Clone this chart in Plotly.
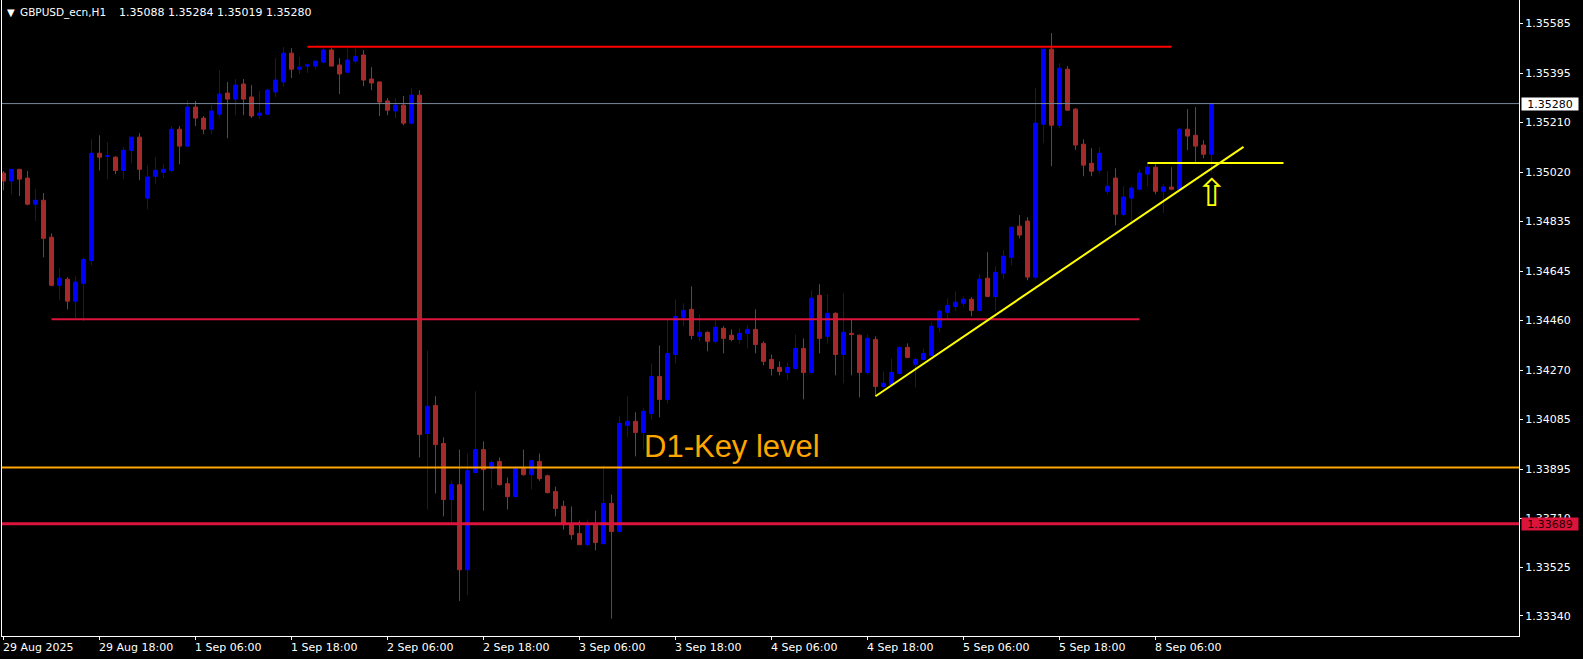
import pandas as pd
import plotly.graph_objects as go

symbol = "GBPUSD_ecn,H1"
start_time = "2025-08-29 06:00"

opens = [1.35017, 1.34987, 1.35031, 1.34998, 1.34899, 1.34914, 1.34774, 1.34592, 1.34615, 1.34532,
         1.34600, 1.34686, 1.35092, 1.35081, 1.35077, 1.35027, 1.35103, 1.35153, 1.34922, 1.35005,
         1.35020, 1.35027, 1.35183, 1.35119, 1.35267, 1.35225, 1.35183, 1.35240, 1.35320, 1.35297,
         1.35354, 1.35305, 1.35236, 1.35240, 1.35324, 1.35362, 1.35471, 1.35410, 1.35422, 1.35422,
         1.35437, 1.35483, 1.35426, 1.35399, 1.35441, 1.35464, 1.35373, 1.35362, 1.35290, 1.35252,
         1.35274, 1.35206, 1.35312, 1.34031, 1.34137, 1.33993, 1.33781, 1.33837, 1.33515, 1.33883,
         1.33970, 1.33898, 1.33925, 1.33841, 1.33792, 1.33898, 1.33875, 1.33925, 1.33871, 1.33811,
         1.33755, 1.33686, 1.33652, 1.33610, 1.33686, 1.33614, 1.33766, 1.33660, 1.34062, 1.34077,
         1.34035, 1.34107, 1.34247, 1.34160, 1.34330, 1.34471, 1.34501, 1.34399, 1.34414, 1.34380,
         1.34429, 1.34403, 1.34387, 1.34410, 1.34425, 1.34372, 1.34311, 1.34281, 1.34262, 1.34277,
         1.34353, 1.34262, 1.34554, 1.34399, 1.34486, 1.34330, 1.34410, 1.34403, 1.34262, 1.34387,
         1.34209, 1.34217, 1.34258, 1.34357, 1.34293, 1.34311, 1.34327, 1.34433, 1.34490, 1.34512,
         1.34524, 1.34539, 1.34497, 1.34619, 1.34550, 1.34638, 1.34698, 1.34816, 1.34835, 1.34623,
         1.35202, 1.35486, 1.35198, 1.35410, 1.35259, 1.35126, 1.35054, 1.35028, 1.34948, 1.34998,
         1.34861, 1.34922, 1.34956, 1.35013, 1.35039, 1.34948, 1.34964, 1.34956, 1.35183, 1.35160,
         1.35123, 1.35088]

highs = [1.35025, 1.35031, 1.35033, 1.35025, 1.34956, 1.34941, 1.34789, 1.34656, 1.34623, 1.34627,
         1.34698, 1.35145, 1.35160, 1.35134, 1.35081, 1.35115, 1.35153, 1.35168, 1.35046, 1.35077,
         1.35050, 1.35195, 1.35195, 1.35293, 1.35290, 1.35233, 1.35274, 1.35407, 1.35362, 1.35373,
         1.35373, 1.35350, 1.35328, 1.35335, 1.35452, 1.35494, 1.35490, 1.35456, 1.35429, 1.35441,
         1.35490, 1.35490, 1.35452, 1.35488, 1.35488, 1.35483, 1.35418, 1.35363, 1.35301, 1.35301,
         1.35309, 1.35339, 1.35331, 1.34345, 1.34172, 1.34016, 1.33852, 1.33970, 1.33955, 1.34191,
         1.34001, 1.33928, 1.33940, 1.33864, 1.33906, 1.33970, 1.33928, 1.33955, 1.33875, 1.33830,
         1.33777, 1.33755, 1.33701, 1.33705, 1.33739, 1.33910, 1.33800, 1.34096, 1.34172, 1.34111,
         1.34126, 1.34296, 1.34364, 1.34463, 1.34539, 1.34524, 1.34588, 1.34482, 1.34418, 1.34459,
         1.34437, 1.34425, 1.34429, 1.34441, 1.34501, 1.34380, 1.34330, 1.34304, 1.34300, 1.34406,
         1.34391, 1.34573, 1.34596, 1.34558, 1.34490, 1.34562, 1.34463, 1.34406, 1.34406, 1.34399,
         1.34266, 1.34315, 1.34361, 1.34372, 1.34319, 1.34353, 1.34452, 1.34501, 1.34543, 1.34569,
         1.34550, 1.34547, 1.34634, 1.34717, 1.34664, 1.34725, 1.34812, 1.34858, 1.34850, 1.35339,
         1.35486, 1.35547, 1.35433, 1.35422, 1.35263, 1.35145, 1.35111, 1.35115, 1.35024, 1.35035,
         1.34967, 1.34967, 1.35032, 1.35054, 1.35050, 1.34975, 1.35039, 1.35187, 1.35259, 1.35267,
         1.35141, 1.35284]

lows = [1.34952, 1.34937, 1.34930, 1.34895, 1.34835, 1.34698, 1.34589, 1.34535, 1.34501, 1.34467,
        1.34456, 1.34667, 1.35027, 1.34994, 1.35013, 1.34994, 1.35054, 1.34990, 1.34880, 1.34975,
        1.34998, 1.35020, 1.35050, 1.35115, 1.35195, 1.35164, 1.35164, 1.35229, 1.35149, 1.35236,
        1.35236, 1.35225, 1.35221, 1.35236, 1.35305, 1.35343, 1.35377, 1.35392, 1.35396, 1.35410,
        1.35433, 1.35422, 1.35316, 1.35396, 1.35433, 1.35346, 1.35331, 1.35233, 1.35236, 1.35225,
        1.35198, 1.35202, 1.33940, 1.33743, 1.33804, 1.33717, 1.33694, 1.33397, 1.33420, 1.33880,
        1.33739, 1.33822, 1.33834, 1.33743, 1.33790, 1.33871, 1.33819, 1.33852, 1.33804, 1.33717,
        1.33667, 1.33629, 1.33608, 1.33603, 1.33588, 1.33610, 1.33330, 1.33656, 1.34016, 1.33944,
        1.33970, 1.34084, 1.34092, 1.34145, 1.34296, 1.34437, 1.34387, 1.34380, 1.34342, 1.34372,
        1.34334, 1.34380, 1.34372, 1.34353, 1.34334, 1.34289, 1.34251, 1.34251, 1.34232, 1.34274,
        1.34160, 1.34258, 1.34334, 1.34372, 1.34251, 1.34221, 1.34251, 1.34168, 1.34255, 1.34172,
        1.34205, 1.34214, 1.34255, 1.34315, 1.34205, 1.34308, 1.34323, 1.34414, 1.34467, 1.34494,
        1.34512, 1.34475, 1.34494, 1.34547, 1.34494, 1.34615, 1.34667, 1.34770, 1.34611, 1.34615,
        1.35130, 1.35043, 1.35187, 1.35252, 1.35104, 1.35005, 1.35005, 1.35017, 1.34937, 1.34819,
        1.34854, 1.34835, 1.34953, 1.34967, 1.34937, 1.34865, 1.34952, 1.34953, 1.35104, 1.35058,
        1.35073, 1.35019]

closes = [1.34987, 1.35031, 1.34994, 1.34899, 1.34914, 1.34770, 1.34592, 1.34619, 1.34532, 1.34604,
          1.34690, 1.35092, 1.35077, 1.35082, 1.35027, 1.35103, 1.35153, 1.35031, 1.35002, 1.35027,
          1.35031, 1.35183, 1.35119, 1.35267, 1.35225, 1.35183, 1.35252, 1.35316, 1.35297, 1.35350,
          1.35297, 1.35233, 1.35244, 1.35331, 1.35369, 1.35471, 1.35410, 1.35418, 1.35426, 1.35441,
          1.35483, 1.35422, 1.35392, 1.35445, 1.35458, 1.35369, 1.35358, 1.35286, 1.35255, 1.35274,
          1.35206, 1.35312, 1.34027, 1.34134, 1.33989, 1.33781, 1.33837, 1.33515, 1.33890, 1.33970,
          1.33894, 1.33921, 1.33837, 1.33792, 1.33898, 1.33875, 1.33928, 1.33860, 1.33807, 1.33747,
          1.33686, 1.33648, 1.33610, 1.33686, 1.33618, 1.33766, 1.33660, 1.34069, 1.34077, 1.34035,
          1.34115, 1.34247, 1.34160, 1.34334, 1.34474, 1.34497, 1.34402, 1.34414, 1.34380, 1.34433,
          1.34391, 1.34387, 1.34410, 1.34425, 1.34368, 1.34304, 1.34277, 1.34266, 1.34281, 1.34353,
          1.34262, 1.34543, 1.34391, 1.34486, 1.34330, 1.34414, 1.34406, 1.34262, 1.34391, 1.34209,
          1.34221, 1.34262, 1.34357, 1.34319, 1.34311, 1.34334, 1.34437, 1.34494, 1.34516, 1.34528,
          1.34539, 1.34497, 1.34615, 1.34550, 1.34641, 1.34702, 1.34812, 1.34782, 1.34623, 1.35206,
          1.35486, 1.35198, 1.35414, 1.35255, 1.35123, 1.35047, 1.35024, 1.35092, 1.34967, 1.34861,
          1.34926, 1.34960, 1.35017, 1.35039, 1.34948, 1.34964, 1.34956, 1.35183, 1.35157, 1.35119,
          1.35088, 1.35280]

tick_times = ["2025-08-29 06:00", "2025-08-29 18:00", "2025-09-01 06:00", "2025-09-01 18:00",
              "2025-09-02 06:00", "2025-09-02 18:00", "2025-09-03 06:00", "2025-09-03 18:00",
              "2025-09-04 06:00", "2025-09-04 18:00", "2025-09-05 06:00", "2025-09-05 18:00",
              "2025-09-08 06:00"]
tick_labels = ["29 Aug 2025", "29 Aug 18:00", "1 Sep 06:00", "1 Sep 18:00", "2 Sep 06:00",
               "2 Sep 18:00", "3 Sep 06:00", "3 Sep 18:00", "4 Sep 06:00", "4 Sep 18:00",
               "5 Sep 06:00", "5 Sep 18:00", "8 Sep 06:00"]
price_ticks = [1.35585, 1.35395, 1.35210, 1.35020, 1.34835, 1.34645, 1.34460, 1.34270,
               1.34085, 1.33895, 1.33710, 1.33525, 1.33340]

# drawn objects (bar index / price)
top_level = 1.35495
top_level_span = [38, 146]
mid_level = 1.34463
mid_level_span = [6, 142]
key_level = 1.33902
support_level = 1.33689
trend_x = [109, 155]
trend_y = [1.34172, 1.35116]
break_level = 1.35055
break_span = [143, 160]
label_pos = [79.85, 1.33981]
arrow_pos = [151, 1.34940]

# ---------------------------------------------------------------
hours = pd.date_range(start_time, periods=24 * 14, freq="h")
hours = hours[hours.dayofweek < 5][:len(opens)]
times = hours.strftime("%Y-%m-%d %H:%M").tolist()

BULL = "#0000FF"
BEAR = "#A52A2A"
FONT = "DejaVu Sans"

fig = go.Figure()
fig.add_trace(go.Candlestick(
    x=times, open=opens, high=highs, low=lows, close=closes,
    increasing=dict(line=dict(color=BULL, width=1), fillcolor=BULL),
    decreasing=dict(line=dict(color=BEAR, width=1), fillcolor=BEAR),
    whiskerwidth=0, hoverinfo="skip", showlegend=False,
))

shapes = []
def hline(y, color, width, x0=None, x1=None):
    if x0 is None:
        shapes.append(dict(type="line", xref="paper", yref="y", x0=0, x1=1, y0=y, y1=y,
                           line=dict(color=color, width=width)))
    else:
        shapes.append(dict(type="line", xref="x", yref="y", x0=x0, x1=x1, y0=y, y1=y,
                           line=dict(color=color, width=width)))

hline(closes[-1], "#778899", 1)
hline(key_level, "#FFA500", 2)
hline(support_level, "#DC143C", 3)
hline(top_level, "#FF0000", 2, *top_level_span)
hline(mid_level, "#DC143C", 2, *mid_level_span)
hline(break_level, "#FFFF00", 2, *break_span)
shapes.append(dict(type="line", xref="x", yref="y", x0=trend_x[0], x1=trend_x[1],
                   y0=trend_y[0], y1=trend_y[1], line=dict(color="#FFFF00", width=2)))

annotations = []
for t, lab in zip(tick_times, tick_labels):
    annotations.append(dict(x=t, xref="x", y=0, yref="paper", text=lab, showarrow=False,
                            xanchor="left", yanchor="top", xshift=-3, yshift=-3,
                            font=dict(family=FONT, size=11, color="#FFFFFF")))

annotations.append(dict(x=label_pos[0], y=label_pos[1], xref="x", yref="y", text="D1-Key level",
                        showarrow=False, xanchor="left", yanchor="middle",
                        font=dict(family="Liberation Sans", size=31, color="#FFA500")))
annotations.append(dict(x=arrow_pos[0], y=arrow_pos[1], xref="x", yref="y", text="⇧",
                        showarrow=False, xanchor="center", yanchor="middle",
                        font=dict(family=FONT, size=38, color="#FFFF00")))

# price boxes on the right axis
annotations.append(dict(x=1, xref="paper", y=closes[-1], yref="y", text=f"{closes[-1]:.5f}",
                        showarrow=False, xanchor="left", yanchor="middle", xshift=2,
                        width=56, height=12, borderpad=0, bgcolor="#FFFFFF",
                        font=dict(family=FONT, size=11, color="#000000")))
annotations.append(dict(x=1, xref="paper", y=support_level, yref="y", text=f"{support_level:.5f}",
                        showarrow=False, xanchor="left", yanchor="middle", xshift=2,
                        width=56, height=12, borderpad=0, bgcolor="#DC143C",
                        font=dict(family=FONT, size=11, color="#200000")))

# header
annotations.append(dict(x=0, xref="paper", y=1, yref="paper", text="▼", showarrow=False,
                        xanchor="left", yanchor="middle", xshift=3, yshift=-12,
                        font=dict(family=FONT, size=10, color="#FFFFFF")))
annotations.append(dict(x=0, xref="paper", y=1, yref="paper", text=symbol, showarrow=False,
                        xanchor="left", yanchor="middle", xshift=16, yshift=-12,
                        font=dict(family=FONT, size=10.5, color="#FFFFFF")))
annotations.append(dict(x=0, xref="paper", y=1, yref="paper",
                        text=" ".join(f"{v:.5f}" for v in (opens[-1], highs[-1], lows[-1], closes[-1])),
                        showarrow=False, xanchor="left", yanchor="middle", xshift=115, yshift=-12,
                        font=dict(family=FONT, size=11, color="#FFFFFF")))

fig.update_layout(
    width=1583, height=659,
    margin=dict(l=2, r=64, t=0, b=23, pad=0),
    paper_bgcolor="#000000", plot_bgcolor="#000000",
    font=dict(family=FONT, size=11, color="#FFFFFF"),
    boxgap=0.5, boxgroupgap=0,
    shapes=shapes, annotations=annotations,
    showlegend=False,
    xaxis=dict(type="category", range=[-0.1875, 189.4375], rangeslider=dict(visible=False),
               showgrid=False, zeroline=False, showline=True, linecolor="#FFFFFF", linewidth=1,
               tickmode="array", tickvals=tick_times, ticktext=[""] * len(tick_times),
               ticks="outside", ticklen=3, tickcolor="#FFFFFF", showticklabels=False),
    yaxis=dict(side="right", range=[1.332642, 1.356722], showgrid=False, zeroline=False,
               showline=True, mirror=True, linecolor="#FFFFFF", linewidth=1,
               tickmode="array", tickvals=price_ticks, ticktext=[f"{v:.5f}" for v in price_ticks],
               ticks="outside", ticklen=3, tickcolor="#FFFFFF",
               tickfont=dict(family=FONT, size=11, color="#FFFFFF")),
)

fig.write_html("out.html", config={"displayModeBar": False},
               post_script="document.body.style.margin='0';document.body.style.overflow='hidden';")
